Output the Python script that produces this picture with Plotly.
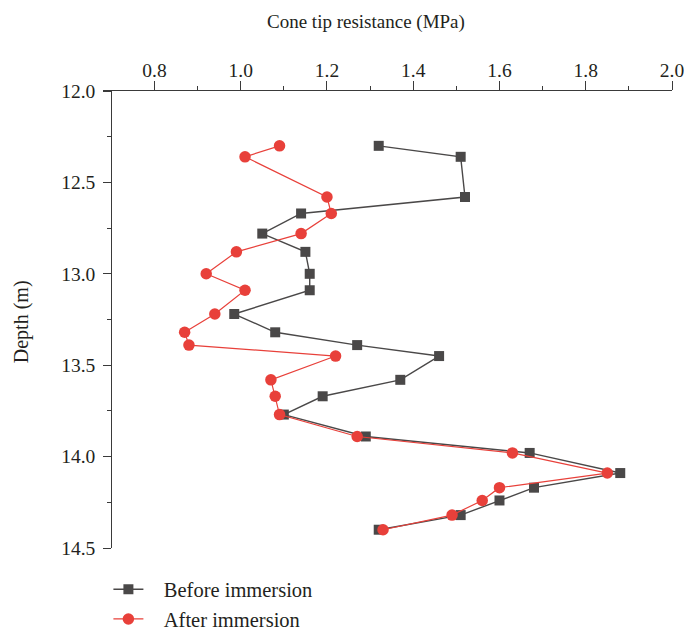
import plotly.graph_objects as go

depth = [12.30, 12.36, 12.58, 12.67, 12.78, 12.88, 13.00, 13.09, 13.22, 13.32, 13.39,
         13.45, 13.58, 13.67, 13.77, 13.89, 13.98, 14.09, 14.17, 14.24, 14.32, 14.40]
before = [1.32, 1.51, 1.52, 1.14, 1.05, 1.15, 1.16, 1.16, 0.985, 1.08, 1.27,
          1.46, 1.37, 1.19, 1.10, 1.29, 1.67, 1.88, 1.68, 1.60, 1.51, 1.32]
after = [1.09, 1.01, 1.20, 1.21, 1.14, 0.99, 0.92, 1.01, 0.94, 0.87, 0.88,
         1.22, 1.07, 1.08, 1.09, 1.27, 1.63, 1.85, 1.60, 1.56, 1.49, 1.33]

names = ["Before immersion", "After immersion"]
x_ticks = [0.8, 1.0, 1.2, 1.4, 1.6, 1.8, 2.0]
y_ticks = [12.0, 12.5, 13.0, 13.5, 14.0, 14.5]

FONT = "Liberation Serif"
AX = "#3a3a3a"
sp = "\u00a0\u00a0\u00a0"

fig = go.Figure()
fig.add_trace(go.Scatter(
    x=before, y=depth, mode="lines+markers", name=sp + names[0],
    line=dict(color="#4a4848", width=1.4),
    marker=dict(symbol="square", size=10, color="#4a4848"),
))
fig.add_trace(go.Scatter(
    x=after, y=depth, mode="lines+markers", name=sp + names[1],
    line=dict(color="#e8403a", width=1.2),
    marker=dict(symbol="circle", size=11.5, color="#e8403a"),
))

x0 = 0.6807
fig.update_layout(
    width=684, height=631,
    margin=dict(l=103, r=12, t=91, b=83, autoexpand=False),
    plot_bgcolor="white", paper_bgcolor="white",
    font=dict(family=FONT, size=19, color="#231f20"),
    showlegend=True,
    legend=dict(x=0.0095, y=-0.047, xanchor="left", yanchor="top",
                font=dict(size=20.5), bgcolor="rgba(0,0,0,0)",
                tracegroupgap=0, itemwidth=30),
    xaxis=dict(
        side="top", range=[x0, 2.0], showgrid=False, zeroline=False,
        automargin=False, ticklabeloverflow="allow", ticklabelstandoff=-4,
        showline=True, linecolor=AX, linewidth=1.3,
        ticks="outside", ticklen=9, tickwidth=1.3, tickcolor=AX,
        tickvals=x_ticks, ticktext=[f"{v:.1f}" for v in x_ticks],
        minor=dict(ticks="outside", ticklen=4, tickwidth=1.3, tickcolor=AX,
                   tickvals=[0.9, 1.1, 1.3, 1.5, 1.7, 1.9], showgrid=False),
        tickfont=dict(size=19.5),
    ),
    yaxis=dict(
        range=[14.5, 12.0], showgrid=False, zeroline=False,
        automargin=False, ticklabeloverflow="allow", ticklabelstandoff=4,
        anchor="free", position=(0.7 - x0) / (2.0 - x0),
        showline=True, linecolor=AX, linewidth=1.3,
        ticks="outside", ticklen=8, tickwidth=1.3, tickcolor=AX,
        tickvals=y_ticks, ticktext=[f"{v:.1f}" for v in y_ticks],
        minor=dict(ticks="outside", ticklen=4, tickwidth=1.3, tickcolor=AX,
                   tickvals=[12.25, 12.75, 13.25, 13.75, 14.25], showgrid=False),
        tickfont=dict(size=19.5),
    ),
)

fig.add_annotation(text="Cone tip resistance (MPa)", xref="paper", yref="paper",
                   x=(366 - 103.3) / 569, y=1, yshift=69, xanchor="center",
                   yanchor="middle", showarrow=False, font=dict(size=19))
fig.add_annotation(text="Depth (m)", xref="paper", yref="paper",
                   x=0, xshift=-(103.3 - 22), y=0.5, yshift=-2, textangle=-90,
                   xanchor="center", yanchor="middle", showarrow=False,
                   font=dict(size=20))

fig.write_html("out.html", config={"displayModeBar": False},
               post_script="document.body.style.margin='0';document.body.style.overflow='hidden';")
